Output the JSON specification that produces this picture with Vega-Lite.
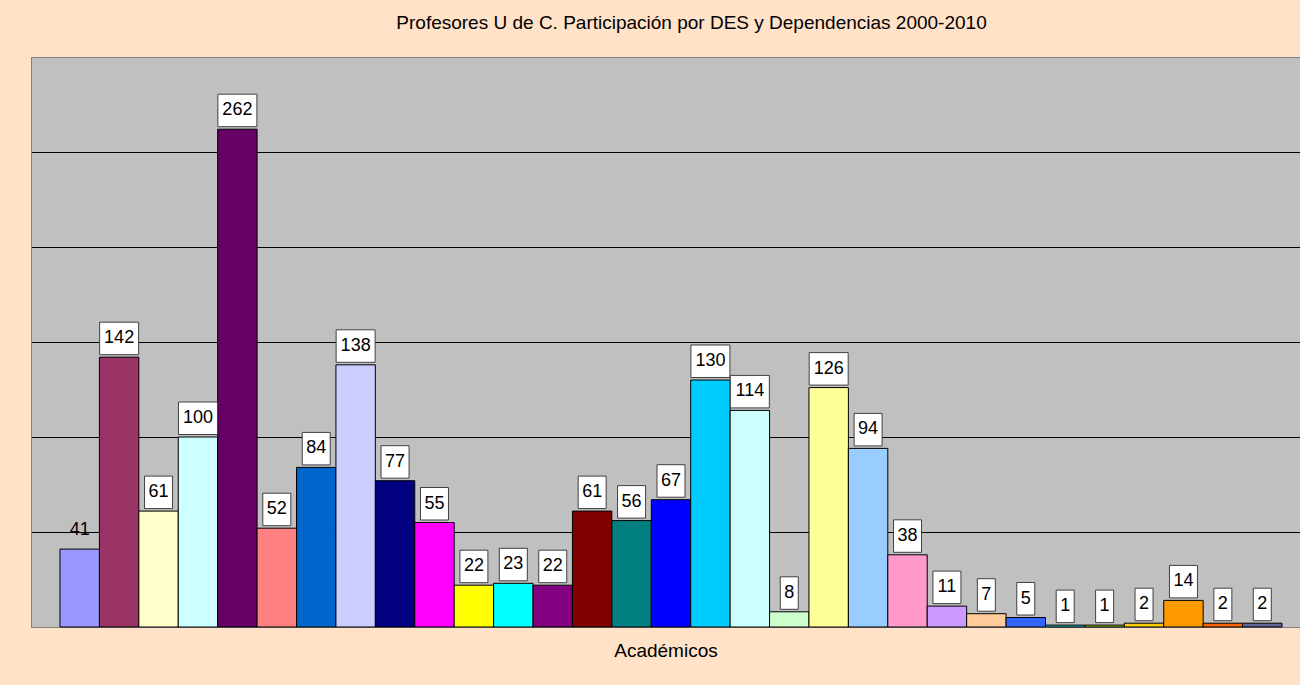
{
  "$schema": "https://vega.github.io/schema/vega-lite/v6.json",
  "autosize": {"type": "none"},
  "width": 1269,
  "height": 570,
  "padding": {"left": 31, "top": 57, "right": 0, "bottom": 58},
  "background": "#FFE2C8",
  "config": {
    "view": {"stroke": null, "fill": "#C0C0C0"},
    "font": "Liberation Sans"
  },
  "title": {
    "text": "Profesores U de C. Participación por DES y Dependencias 2000-2010",
    "fontSize": 19,
    "fontWeight": "normal",
    "color": "black",
    "anchor": "middle",
    "baseline": "alphabetic",
    "offset": 9,
    "dx": 26
  },
  "data": {
    "values": [
      {"serie": "Serie 1", "valor": 41},
      {"serie": "Serie 2", "valor": 142},
      {"serie": "Serie 3", "valor": 61},
      {"serie": "Serie 4", "valor": 100},
      {"serie": "Serie 5", "valor": 262},
      {"serie": "Serie 6", "valor": 52},
      {"serie": "Serie 7", "valor": 84},
      {"serie": "Serie 8", "valor": 138},
      {"serie": "Serie 9", "valor": 77},
      {"serie": "Serie 10", "valor": 55},
      {"serie": "Serie 11", "valor": 22},
      {"serie": "Serie 12", "valor": 23},
      {"serie": "Serie 13", "valor": 22},
      {"serie": "Serie 14", "valor": 61},
      {"serie": "Serie 15", "valor": 56},
      {"serie": "Serie 16", "valor": 67},
      {"serie": "Serie 17", "valor": 130},
      {"serie": "Serie 18", "valor": 114},
      {"serie": "Serie 19", "valor": 8},
      {"serie": "Serie 20", "valor": 126},
      {"serie": "Serie 21", "valor": 94},
      {"serie": "Serie 22", "valor": 38},
      {"serie": "Serie 23", "valor": 11},
      {"serie": "Serie 24", "valor": 7},
      {"serie": "Serie 25", "valor": 5},
      {"serie": "Serie 26", "valor": 1},
      {"serie": "Serie 27", "valor": 1},
      {"serie": "Serie 28", "valor": 2},
      {"serie": "Serie 29", "valor": 14},
      {"serie": "Serie 30", "valor": 2},
      {"serie": "Serie 31", "valor": 2}
    ]
  },
  "encoding": {
    "x": {
      "field": "serie",
      "type": "nominal",
      "sort": null,
      "scale": {"paddingInner": 0, "paddingOuter": 0.596, "align": 0.617},
      "axis": {
        "labels": false,
        "ticks": false,
        "domainColor": "#808080",
        "title": "Académicos",
        "titleFontSize": 19,
        "titleFontWeight": "normal",
        "titleColor": "black",
        "titlePadding": 14
      }
    },
    "y": {
      "field": "valor",
      "type": "quantitative",
      "scale": {"domain": [0, 300], "nice": false},
      "axis": {
        "values": [50, 100, 150, 200, 250, 300],
        "labels": false,
        "ticks": false,
        "title": null,
        "domainColor": "#808080",
        "gridColor": {"condition": {"test": "datum.value == 300", "value": "#808080"}, "value": "black"},
        "gridOpacity": 1,
        "gridWidth": 1
      }
    }
  },
  "layer": [
    {
      "mark": {"type": "bar", "stroke": "black", "strokeWidth": 1},
      "encoding": {
        "color": {
          "field": "serie",
          "type": "nominal",
          "sort": null,
          "legend": null,
          "scale": {"range": ["#9999FF", "#993366", "#FFFFCC", "#CCFFFF", "#660066", "#FF8080", "#0066CC", "#CCCCFF", "#000080", "#FF00FF", "#FFFF00", "#00FFFF", "#800080", "#800000", "#008080", "#0000FF", "#00CCFF", "#CCFFFF", "#CCFFCC", "#FFFF99", "#99CCFF", "#FF99CC", "#CC99FF", "#FFCC99", "#3366FF", "#33CCCC", "#99CC00", "#FFCC00", "#FF9900", "#FF6600", "#666699"]}
        }
      }
    },
    {
      "transform": [{"filter": "datum.valor < 10"}],
      "mark": {"type": "point", "shape": "M-9,-35H9V-2.5H-9Z", "size": 4, "filled": true, "fill": "white", "stroke": "#404040", "strokeWidth": 1, "opacity": 1}
    },
    {
      "transform": [{"filter": "datum.valor >= 10 && datum.valor < 100 && datum.serie != 'Serie 1'"}],
      "mark": {"type": "point", "shape": "M-14,-35H14V-2.5H-14Z", "size": 4, "filled": true, "fill": "white", "stroke": "#404040", "strokeWidth": 1, "opacity": 1}
    },
    {
      "transform": [{"filter": "datum.valor >= 100"}],
      "mark": {"type": "point", "shape": "M-19.5,-35H19.5V-2.5H-19.5Z", "size": 4, "filled": true, "fill": "white", "stroke": "#404040", "strokeWidth": 1, "opacity": 1}
    },
    {
      "mark": {"type": "text", "fontSize": 18, "color": "black", "baseline": "middle", "align": "center", "dy": -19},
      "encoding": {"text": {"field": "valor", "type": "quantitative"}}
    }
  ]
}
